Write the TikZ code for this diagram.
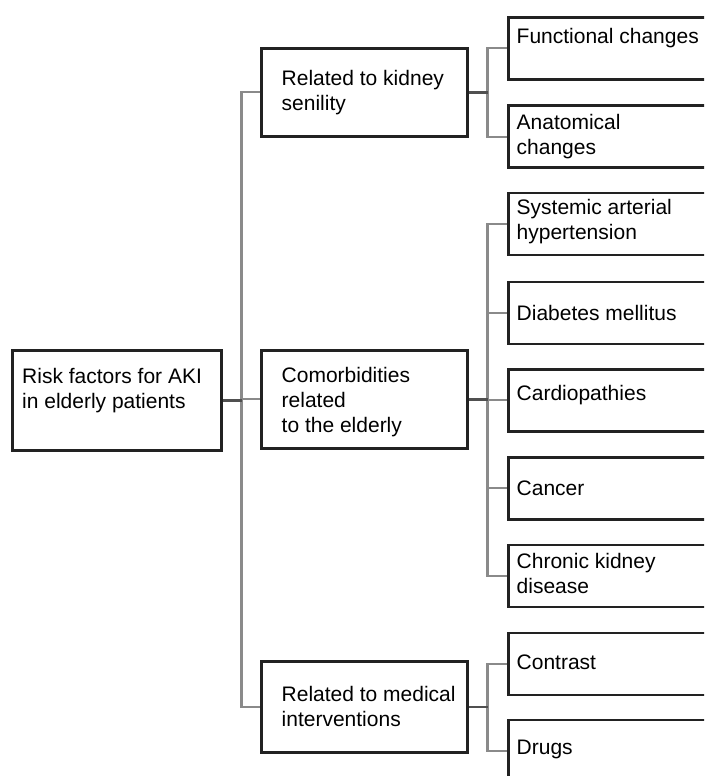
\documentclass[tikz,border=0pt]{standalone}
\usepackage{fontspec}
\setmainfont{Liberation Sans}
\definecolor{boxc}{HTML}{222222}
\definecolor{stubc}{HTML}{505050}
\definecolor{linec}{HTML}{8A8A8A}
\tikzset{
  box/.style={draw=boxc, line width=2.7pt, rectangle, inner sep=0pt, anchor=north west},
  midbox/.style={box, minimum width=206pt},
  leaf/.style={box, minimum width=220pt, minimum height=62pt},
  txt/.style={anchor=west, align=left, inner sep=0pt, text=black,
    font=\fontsize{21pt}{25pt}\selectfont},
  stub/.style={draw=stubc, line width=2.5pt},
  vline/.style={draw=linec, line width=2.1pt},
}
\begin{document}
\begin{tikzpicture}[x=1pt, y=-1pt]
\useasboundingbox (0,0) rectangle (704,776);
\clip (0,0) rectangle (704,776);
\fill[white] (0,0) rectangle (704,776);
% root
\node[box, minimum width=209pt, minimum height=100pt,
  label={[txt, xshift=11pt, yshift=10pt]west:Risk factors for AKI\\in elderly patients}] (root) at (11,349) {};
% middle level
\node[midbox, minimum height=88pt,
  label={[txt, xshift=21.5pt]west:Related to kidney\\senility}] (sen) at (260,47) {};
\node[midbox, minimum height=98pt,
  label={[txt, xshift=21.5pt, yshift=-3pt]west:Comorbidities\\related\\to the elderly}] (com) at (260,349) {};
\node[midbox, minimum height=91pt,
  label={[txt, xshift=21.5pt]west:Related to medical\\interventions}] (med) at (260,660) {};
% leaves
\node[leaf, label={[txt, xshift=9.5pt, yshift=10.5pt]west:Functional changes}] (fun) at (507,16) {};
\node[leaf, label={[txt, xshift=9.5pt]west:Anatomical\\changes}] (ana) at (507,104.3) {};
\node[leaf, label={[txt, xshift=9.5pt, yshift=2pt]west:Systemic arterial\\hypertension}] (sys) at (507,191.5) {};
\node[leaf, label={[txt, xshift=9.5pt]west:Diabetes mellitus}] (dia) at (507,280.5) {};
\node[leaf, label={[txt, xshift=9.5pt, yshift=5pt]west:Cardiopathies}] (car) at (507,368) {};
\node[leaf, label={[txt, xshift=9.5pt]west:Cancer}] (can) at (507,456) {};
\node[leaf, label={[txt, xshift=9.5pt, yshift=2.5pt]west:Chronic kidney\\disease}] (chr) at (507,543.5) {};
\node[leaf, label={[txt, xshift=9.5pt, yshift=2pt]west:Contrast}] (con) at (507,631.7) {};
\node[leaf, label={[txt, xshift=9.5pt, yshift=1.5pt]west:Drugs}] (dru) at (507,718.5) {};
% branch columns
\coordinate (tx) at (241.5,0);
\coordinate (bx) at (487.5,0);
% root to middle level
\draw[vline] (sen.west) -- (sen.west -| tx) -- (med.west -| tx) -- (med.west);
\draw[vline] (com.west -| tx) -- (com.west);
\draw[stub] (root.east) -- (root.east -| tx);
% kidney senility
\draw[vline] (fun.west) -- (fun.west -| bx) -- (ana.west -| bx) -- (ana.west);
\draw[stub] (sen.east) -- (sen.east -| bx);
% comorbidities
\draw[vline] (sys.west) -- (sys.west -| bx) -- (chr.west -| bx) -- (chr.west);
\draw[vline] (dia.west -| bx) -- (dia.west);
\draw[vline] (car.west -| bx) -- (car.west);
\draw[vline] (can.west -| bx) -- (can.west);
\draw[stub] (com.east) -- (com.east -| bx);
% medical interventions
\draw[vline] (con.west) -- (con.west -| bx) -- (dru.west -| bx) -- (dru.west);
\draw[stub] (med.east) -- (med.east -| bx);
\end{tikzpicture}
\end{document}
